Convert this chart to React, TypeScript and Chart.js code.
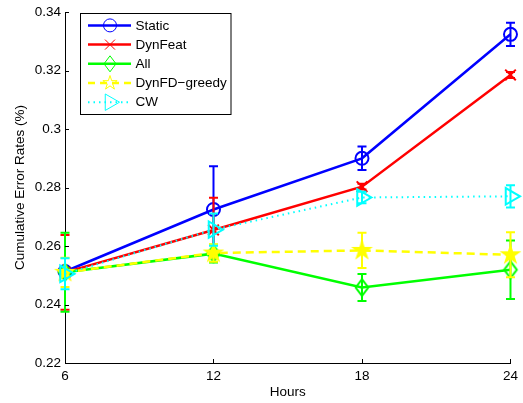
import React, { useEffect, useRef } from 'react';
import { Chart, registerables } from 'chart.js';

Chart.register(...registerables);

// ---------------- data ----------------
const hours = [6, 12, 18, 24];
const yTickValues = [0.22, 0.24, 0.26, 0.28, 0.3, 0.32, 0.34];
const seriesNames = ['Static', 'DynFeat', 'All', 'DynFD\u2212greedy', 'CW'];

const staticVals = [0.2513, 0.2725, 0.29, 0.3324];
const staticErr = [0.001, 0.0148, 0.004, 0.004];
const dynFeatVals = [0.251, 0.2655, 0.2803, 0.3185];
const dynFeatErr = [0.0128, 0.011, 0.001, 0.001];
const allVals = [0.251, 0.2574, 0.2458, 0.2519];
const allErr = [0.0135, 0.003, 0.0046, 0.01];
const greedyVals = [0.251, 0.2576, 0.2585, 0.257];
const greedyErr = [0.005, 0.003, 0.006, 0.0077];
const cwVals = [0.2505, 0.2656, 0.2766, 0.277];
const cwErr = [0.0053, 0.0055, 0.002, 0.0038];

const FONT = "'Liberation Sans', Arial, Helvetica, sans-serif";
const BLUE = '#0000ff';
const RED = '#ff0000';
const GREEN = '#00ff00';
const YELLOW = '#ffff00';
const CYAN = '#00ffff';

type Kind = 'circle' | 'cross' | 'diamond' | 'star' | 'triangle';

function drawMarker(g: CanvasRenderingContext2D, kind: Kind, cx: number, cy: number, s: number, color: string, lw: number, fill: boolean) {
  g.save();
  g.setLineDash([]);
  g.strokeStyle = color;
  g.fillStyle = color;
  g.lineWidth = lw;
  g.lineJoin = 'miter';
  g.beginPath();
  if (kind === 'circle') {
    g.arc(cx, cy, 6.5 * s, 0, Math.PI * 2);
  } else if (kind === 'cross') {
    const h = 5 * s;
    g.moveTo(cx - h, cy - h); g.lineTo(cx + h, cy + h);
    g.moveTo(cx - h, cy + h); g.lineTo(cx + h, cy - h);
  } else if (kind === 'diamond') {
    const hw = 6 * s, hh = 8 * s;
    g.moveTo(cx, cy - hh); g.lineTo(cx + hw, cy); g.lineTo(cx, cy + hh); g.lineTo(cx - hw, cy); g.closePath();
  } else if (kind === 'star') {
    const r = 7.5 * s, ri = r * 0.382;
    for (let k = 0; k < 10; k++) {
      const rr = k % 2 === 0 ? r : ri;
      const a = -Math.PI / 2 + (k * Math.PI) / 5;
      const px = cx + rr * Math.cos(a), py = cy + rr * Math.sin(a);
      if (k === 0) g.moveTo(px, py); else g.lineTo(px, py);
    }
    g.closePath();
  } else if (kind === 'triangle') {
    const r = 9.5 * s;
    g.moveTo(cx + r, cy);
    g.lineTo(cx - r / 2, cy - r * 0.866);
    g.lineTo(cx - r / 2, cy + r * 0.866);
    g.closePath();
  }
  if (fill) g.fill();
  g.stroke();
  g.restore();
}

function markerCanvas(kind: Kind, s: number, color: string, lw: number, fill: boolean) {
  const size = Math.ceil(22 * s + lw * 2);
  const c = document.createElement('canvas');
  c.width = size; c.height = size;
  const g = c.getContext('2d')!;
  drawMarker(g, kind, size / 2, size / 2, s, color, lw, fill);
  return c;
}

const errorBarPlugin = {
  id: 'errorBars',
  afterDatasetDraw(chart: any, args: any) {
    const ds = chart.data.datasets[args.index];
    const errs: number[] | undefined = ds.errors;
    if (!errs) return;
    const { ctx, scales } = chart;
    const x = scales.x, y = scales.y;
    ctx.save();
    ctx.strokeStyle = ds.borderColor;
    ctx.lineWidth = 2;
    ctx.setLineDash([]);
    ds.data.forEach((p: any, i: number) => {
      const px = x.getPixelForValue(p.x);
      const top = y.getPixelForValue(p.y + errs[i]);
      const bot = y.getPixelForValue(p.y - errs[i]);
      const cap = 4.5;
      ctx.beginPath();
      ctx.moveTo(px, top); ctx.lineTo(px, bot);
      ctx.moveTo(px - cap, top); ctx.lineTo(px + cap, top);
      ctx.moveTo(px - cap, bot); ctx.lineTo(px + cap, bot);
      ctx.stroke();
    });
    ctx.restore();
  },
};

const inwardTicksPlugin = {
  id: 'inwardTicks',
  afterDraw(chart: any) {
    const { ctx, scales, chartArea } = chart;
    ctx.save();
    ctx.strokeStyle = '#000';
    ctx.lineWidth = 1;
    ctx.beginPath();
    scales.y.ticks.forEach((t: any) => {
      const py = Math.round(scales.y.getPixelForValue(t.value)) + 0.5;
      ctx.moveTo(chartArea.left, py); ctx.lineTo(chartArea.left + 4, py);
    });
    scales.x.ticks.forEach((t: any) => {
      const px = Math.round(scales.x.getPixelForValue(t.value)) + 0.5;
      ctx.moveTo(px, chartArea.bottom); ctx.lineTo(px, chartArea.bottom - 4);
    });
    ctx.stroke();
    ctx.restore();
  },
};

const legendStyles: { color: string; dash: number[]; kind: Kind }[] = [
  { color: BLUE, dash: [], kind: 'circle' },
  { color: RED, dash: [], kind: 'cross' },
  { color: GREEN, dash: [], kind: 'diamond' },
  { color: YELLOW, dash: [7, 5], kind: 'star' },
  { color: CYAN, dash: [1.5, 4], kind: 'triangle' },
];

const boxLegendPlugin = {
  id: 'boxLegend',
  afterDraw(chart: any) {
    const { ctx, chartArea } = chart;
    const left = chartArea.left + 15;
    const top = chartArea.top + 1;
    const w = 150.5, h = 101;
    ctx.save();
    ctx.fillStyle = '#fff';
    ctx.fillRect(left, top, w, h);
    ctx.strokeStyle = '#000';
    ctx.lineWidth = 1;
    ctx.strokeRect(Math.round(left) + 0.5, Math.round(top) + 0.5, w, h);
    seriesNames.forEach((name, i) => {
      const st = legendStyles[i];
      const cy = top + 12.3 + i * 19.2;
      ctx.save();
      ctx.strokeStyle = st.color;
      ctx.lineWidth = st.kind === 'triangle' ? 2 : 2.5;
      ctx.setLineDash(st.dash);
      ctx.beginPath();
      ctx.moveTo(left + 8, cy); ctx.lineTo(left + 51, cy);
      ctx.stroke();
      ctx.restore();
      drawMarker(ctx, st.kind, left + 30, cy, 1, st.color, 1, false);
      ctx.fillStyle = '#000';
      ctx.font = `13.5px ${FONT}`;
      ctx.textBaseline = 'middle';
      ctx.textAlign = 'left';
      ctx.fillText(name, left + 55.5, cy + 0.5);
    });
    ctx.restore();
  },
};

function pts(vals: number[]) {
  return vals.map((v, i) => ({ x: hours[i], y: v }));
}

export default function App() {
  const ref = useRef<HTMLCanvasElement>(null);

  useEffect(() => {
    Chart.defaults.font.family = FONT;
    Chart.defaults.color = '#000';
    const diamondImg = markerCanvas('diamond', 1.05, GREEN, 2, false);
    const starImg = markerCanvas('star', 1.1, YELLOW, 2, true);

    const common = { tension: 0, clip: false as any, borderWidth: 2.5, pointBorderWidth: 2, pointBackgroundColor: 'rgba(0,0,0,0)' };

    const chart = new Chart(ref.current!, {
      type: 'line',
      data: {
        datasets: [
          { ...common, label: seriesNames[0], data: pts(staticVals), errors: staticErr, borderColor: BLUE, pointBorderColor: BLUE, pointStyle: 'circle', pointRadius: 6.5, order: 4 } as any,
          { ...common, label: seriesNames[1], data: pts(dynFeatVals), errors: dynFeatErr, borderColor: RED, pointBorderColor: RED, pointStyle: 'crossRot', pointRadius: 7.5, order: 3 } as any,
          { ...common, label: seriesNames[2], data: pts(allVals), errors: allErr, borderColor: GREEN, pointBorderColor: GREEN, pointStyle: diamondImg, pointRadius: 7, order: 2 } as any,
          { ...common, label: seriesNames[3], data: pts(greedyVals), errors: greedyErr, borderColor: YELLOW, borderDash: [8, 5], pointBorderColor: YELLOW, pointStyle: starImg, pointRadius: 8, order: 1 } as any,
          { ...common, label: seriesNames[4], data: pts(cwVals), errors: cwErr, borderColor: CYAN, borderWidth: 2, borderDash: [1.5, 4], pointBorderColor: CYAN, pointStyle: 'triangle', pointRotation: 90, pointRadius: 9.5, order: 0 } as any,
        ],
      },
      options: {
        responsive: false,
        animation: false,
        devicePixelRatio: 1,
        layout: { padding: { left: 0, right: 11, top: 11, bottom: 0 } },
        plugins: { legend: { display: false }, tooltip: { enabled: false } },
        scales: {
          x: {
            type: 'linear',
            min: 6,
            max: 24,
            grid: { display: false, drawTicks: false },
            border: { display: true, color: '#000', width: 1 },
            afterBuildTicks: (s: any) => { s.ticks = hours.map((v) => ({ value: v })); },
            afterFit: (s: any) => { s.height = 40; },
            ticks: { padding: 5, color: '#000', font: { size: 13.5 }, callback: (v: any) => String(v), maxRotation: 0 },
            title: { display: true, text: 'Hours', color: '#000', font: { size: 13.5 }, padding: { top: 0, bottom: 3 } },
          },
          y: {
            type: 'linear',
            min: 0.22,
            max: 0.34,
            grid: { display: false, drawTicks: false },
            border: { display: true, color: '#000', width: 1 },
            afterBuildTicks: (s: any) => { s.ticks = yTickValues.map((v) => ({ value: v })); },
            afterFit: (s: any) => { s.width = 65; },
            ticks: { padding: 4, color: '#000', font: { size: 13.5 }, callback: (v: any) => String(parseFloat(Number(v).toFixed(2))) },
            title: { display: true, text: 'Cumulative Error Rates (%)', color: '#000', font: { size: 13.5 }, padding: { top: 12, bottom: 0 } },
          },
        },
      } as any,
      plugins: [errorBarPlugin, inwardTicksPlugin, boxLegendPlugin],
    });
    return () => chart.destroy();
  }, []);

  return (
    <div style={{ position: 'fixed', left: 0, top: 0, width: 523, height: 403, background: '#fff' }}>
      <canvas ref={ref} width={523} height={403} style={{ display: 'block', width: 523, height: 403 }} />
    </div>
  );
}
